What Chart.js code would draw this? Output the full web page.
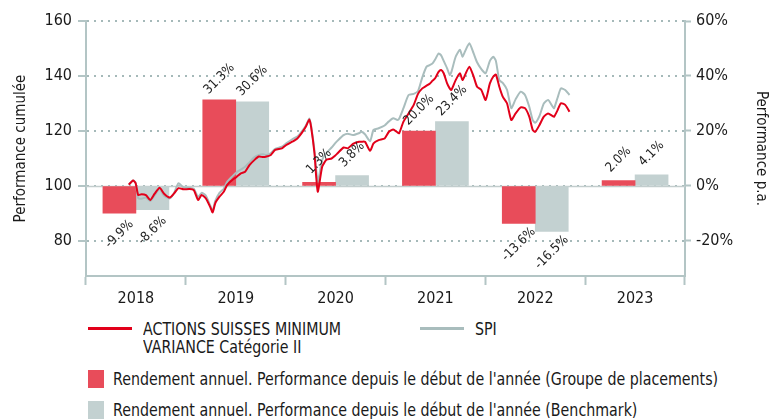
<!DOCTYPE html>
<html>
<head>
<meta charset="utf-8">
<script src="https://cdn.jsdelivr.net/npm/chart.js@4.4.0/dist/chart.umd.min.js"></script>
<style>
  html, body { margin: 0; padding: 0; background: #fff; }
  body { width: 776px; height: 419px; position: relative; overflow: hidden;
         font-family: 'Liberation Sans Narrow', 'DejaVu Sans Condensed', sans-serif; color: #1a1a1a; }
  #wrap { position: absolute; left: 0; top: 0; width: 776px; height: 310px; }
  .lg { position: absolute; font-size: 17px; line-height: 18px; white-space: nowrap;
        transform: scaleX(0.93); transform-origin: left top; }
  .ln { position: absolute; width: 44px; height: 3px; }
  .sq { position: absolute; width: 16px; height: 18px; }
</style>
</head>
<body>
<div id="wrap"><canvas id="perf" width="776" height="310"></canvas></div>

<div class="ln" style="left:88px;top:327px;background:#e2001a"></div>
<div class="lg" style="left:143px;top:320px">ACTIONS SUISSES MINIMUM<br>VARIANCE Catégorie II</div>
<div class="ln" style="left:420px;top:327px;background:#a9bdbd"></div>
<div class="lg" style="left:475px;top:320px">SPI</div>
<div class="sq" style="left:88px;top:370px;background:#e84c5a"></div>
<div class="lg" style="left:113px;top:370px">Rendement annuel. Performance depuis le début de l'année (Groupe de placements)</div>
<div class="sq" style="left:88px;top:401px;background:#c3d1d1"></div>
<div class="lg" style="left:113px;top:401px">Rendement annuel. Performance depuis le début de l'année (Benchmark)</div>

<script>
const years = ['2018', '2019', '2020', '2021', '2022', '2023'];
// annual returns in %
const fundAnnual = [-9.9, 31.3, 1.3, 20.0, -13.6, 2.0];
const spiAnnual = [-8.6, 30.6, 3.8, 23.4, -16.5, 4.1];

// cumulative performance, dates as fractional years
const dates = [
	2018.00, 2018.05, 2018.08, 2018.11, 2018.15, 2018.20, 2018.25, 2018.30, 2018.36, 2018.41,
	2018.48, 2018.53, 2018.58, 2018.64, 2018.71, 2018.76, 2018.81, 2018.85, 2018.90, 2018.95,
	2018.98, 2019.01, 2019.06, 2019.11, 2019.15, 2019.21, 2019.26, 2019.31, 2019.36, 2019.41,
	2019.47, 2019.52, 2019.57, 2019.61, 2019.66, 2019.71, 2019.79, 2019.84, 2019.91, 2019.97,
	2020.02, 2020.07, 2020.11, 2020.13, 2020.17, 2020.19, 2020.21, 2020.26, 2020.31, 2020.37,
	2020.41, 2020.44, 2020.51, 2020.56, 2020.62, 2020.69, 2020.72, 2020.76, 2020.82, 2020.86,
	2020.92, 2020.99, 2021.04, 2021.09, 2021.14, 2021.16, 2021.21, 2021.27, 2021.33, 2021.38,
	2021.43, 2021.48, 2021.52, 2021.55, 2021.58, 2021.62, 2021.65, 2021.68, 2021.72, 2021.75,
	2021.77, 2021.82, 2021.87, 2021.90, 2021.93, 2021.98, 2022.03, 2022.07, 2022.12, 2022.17,
	2022.22, 2022.26, 2022.29, 2022.33, 2022.37, 2022.42, 2022.47, 2022.52, 2022.58, 2022.63,
	2022.68, 2022.72, 2022.75, 2022.80, 2022.85, 2022.90, 2022.95, 2022.97, 2023.01, 2023.05,
	2023.10, 2023.15
];
const fundPerf = [
	100.5, 102.0, 101.0, 96.7, 97.0, 96.7, 94.9, 97.1, 99.4, 97.3,
	95.8, 97.3, 99.2, 98.8, 98.9, 98.5, 94.9, 96.7, 95.5, 92.5,
	90.4, 93.7, 96.1, 97.9, 100.4, 102.2, 103.3, 104.6, 105.2, 107.6,
	109.5, 110.7, 110.5, 110.7, 111.3, 113.1, 113.7, 114.9, 116.1, 117.3,
	119.2, 121.6, 124.2, 121.6, 111.9, 103.4, 97.9, 107.0, 109.5, 110.0,
	111.0, 111.9, 114.0, 113.7, 115.3, 116.1, 116.1, 116.1, 112.8, 115.5,
	116.7, 117.3, 119.7, 120.5, 119.5, 119.2, 123.4, 126.4, 129.5, 133.5,
	135.5, 136.5, 137.3, 138.3, 139.2, 141.5, 142.2, 141.0, 137.3, 135.5,
	134.9, 138.5, 141.0, 138.5, 140.4, 143.4, 139.8, 136.1, 134.9, 131.3,
	137.3, 139.8, 140.5, 136.1, 132.5, 130.1, 124.0, 126.4, 128.6, 128.3,
	125.2, 120.4, 119.7, 122.2, 125.2, 126.4, 125.5, 125.2, 127.5, 130.1,
	129.5, 127.0
];
const spiPerf = [
	100.5, 102.0, 101.2, 95.6, 95.4, 95.8, 94.5, 96.5, 99.0, 96.5,
	95.5, 97.5, 101.0, 99.5, 99.3, 99.0, 96.0, 97.5, 96.5, 93.0,
	91.0, 94.5, 97.5, 99.0, 101.5, 103.5, 105.0, 106.0, 107.0, 108.6,
	110.5, 111.3, 111.5, 111.3, 112.0, 113.5, 114.3, 115.5, 117.0, 118.0,
	119.8, 122.0, 124.5, 122.0, 113.0, 106.0, 101.5, 109.5, 112.0, 114.0,
	115.5, 116.5, 118.5, 119.0, 118.5, 119.2, 119.7, 118.8, 116.3, 120.4,
	121.0, 122.0, 123.5, 124.6, 124.0, 124.5, 128.3, 133.1, 133.5, 134.5,
	139.5, 143.4, 144.0, 144.6, 146.0, 148.2, 147.5, 145.5, 142.8, 140.4,
	141.5, 147.0, 149.5, 147.0, 149.0, 151.9, 148.2, 145.0, 142.5, 141.0,
	145.5, 147.0, 145.5, 138.5, 137.5, 135.0, 128.3, 131.5, 134.3, 133.1,
	128.8, 124.0, 123.0, 125.5, 130.0, 131.3, 129.0, 128.3, 132.0, 135.5,
	134.9, 133.1
];

const leftTicks = [80, 100, 120, 140, 160];
const rightTicks = [-20, 0, 20, 40, 60];

const FONT = "'Liberation Sans Narrow', 'DejaVu Sans Condensed', sans-serif";
const axisColor = '#b3c5c5';
const dotColor = '#a5b9b9';
const textColor = '#1a1a1a';

// solid line at the 100 / 0% level
const zeroLine = {
	id: 'zeroLine',
	beforeDatasetsDraw(chart) {
		const { ctx, chartArea, scales } = chart;
		const y = Math.round(scales.y.getPixelForValue(100)) + 0.5;
		ctx.save();
		ctx.strokeStyle = '#c2cdcd';
		ctx.lineWidth = 1.5;
		ctx.beginPath();
		ctx.moveTo(chartArea.left, y);
		ctx.lineTo(chartArea.right, y);
		ctx.stroke();
		ctx.restore();
	}
};

// rotated value labels on the bars
const barLabels = {
	id: 'barLabels',
	afterDatasetsDraw(chart) {
		const ctx = chart.ctx;
		ctx.save();
		ctx.font = '13px ' + FONT;
		ctx.fillStyle = '#222';
		ctx.textAlign = 'center';
		ctx.textBaseline = 'middle';
		[2, 3].forEach(i => {
			const values = chart.data.datasets[i].data;
			chart.getDatasetMeta(i).data.forEach((bar, j) => {
				const v = values[j];
				const y = v >= 0 ? bar.y - 21 : bar.y + 21;
				ctx.save();
				ctx.translate(bar.x, y);
				ctx.rotate(-Math.PI / 4);
				ctx.fillText(v.toFixed(1) + '%', 0, 0);
				ctx.restore();
			});
		});
		ctx.restore();
	}
};

const tickFont = { family: FONT, size: 16 };
const titleFont = { family: FONT, size: 15 };

const config_perf = {
	type: 'bar',
	data: {
		labels: years,
		datasets: [
			{
				type: 'line',
				label: 'ACTIONS SUISSES MINIMUM VARIANCE Catégorie II',
				data: dates.map((d, i) => ({ x: d, y: fundPerf[i] })),
				xAxisID: 'xl',
				yAxisID: 'y',
				borderColor: '#e2001a',
				borderWidth: 2,
				pointRadius: 0,
				tension: 0.2,
				order: 0,
			},
			{
				type: 'line',
				label: 'SPI',
				data: dates.map((d, i) => ({ x: d, y: spiPerf[i] })),
				xAxisID: 'xl',
				yAxisID: 'y',
				borderColor: '#a9bdbd',
				borderWidth: 2,
				pointRadius: 0,
				tension: 0.2,
				order: 1,
			},
			{
				label: 'Groupe de placements',
				data: fundAnnual,
				xAxisID: 'x',
				yAxisID: 'y1',
				backgroundColor: '#e84c5a',
				borderWidth: 0,
				barThickness: 33,
				order: 2,
			},
			{
				label: 'Benchmark',
				data: spiAnnual,
				xAxisID: 'x',
				yAxisID: 'y1',
				backgroundColor: '#c3d1d1',
				borderWidth: 0,
				barThickness: 33,
				order: 2,
			},
		]
	},
	options: {
		responsive: false,
		animation: false,
		layout: { padding: { top: 21, left: 0, right: 0, bottom: 0 } },
		plugins: {
			legend: { display: false },
			title: { display: false },
			tooltip: { enabled: false },
		},
		scales: {
			x: {
				type: 'category',
				position: 'bottom',
				offset: true,
				grid: {
					offset: true,
					drawOnChartArea: false,
					tickLength: 9,
					tickWidth: 2,
					tickColor: axisColor,
					color: axisColor,
				},
				border: { color: axisColor, width: 2 },
				ticks: { color: textColor, font: tickFont, padding: 4 },
				afterFit: s => { s.height = 34; },
			},
			xl: {
				type: 'linear',
				min: 2018,
				max: 2024,
				display: false,
			},
			y: {
				position: 'left',
				min: 67.27,
				max: 160,
				afterBuildTicks: s => { s.ticks = leftTicks.map(v => ({ value: v })); },
				grid: {
					color: dotColor,
					lineWidth: 2,
					tickColor: axisColor,
					tickLength: 8,
					tickWidth: 2,
					tickBorderDash: [],
				},
				border: { color: axisColor, width: 2, dash: [2, 5] },
				ticks: { color: textColor, font: tickFont, padding: 6 },
				title: {
					display: true,
					text: 'Performance cumulée',
					color: textColor,
					font: titleFont,
					padding: { top: 12, bottom: 0 },
				},
				afterFit: s => { s.width = 86; },
			},
			y1: {
				position: 'right',
				min: -32.73,
				max: 60,
				afterBuildTicks: s => { s.ticks = rightTicks.map(v => ({ value: v })); },
				grid: {
					drawOnChartArea: false,
					tickColor: axisColor,
					tickLength: 6,
					tickWidth: 2,
				},
				border: { color: axisColor, width: 2 },
				ticks: {
					color: textColor,
					font: tickFont,
					padding: 5,
					callback: v => v + '%',
				},
				title: {
					display: true,
					text: 'Performance p.a.',
					color: textColor,
					font: titleFont,
					padding: { top: 6, bottom: 0 },
				},
				afterFit: s => { s.width = 91; },
			},
		}
	},
	plugins: [zeroLine, barLabels],
};

const perf = new Chart(document.getElementById('perf'), config_perf);
</script>
</body>
</html>
